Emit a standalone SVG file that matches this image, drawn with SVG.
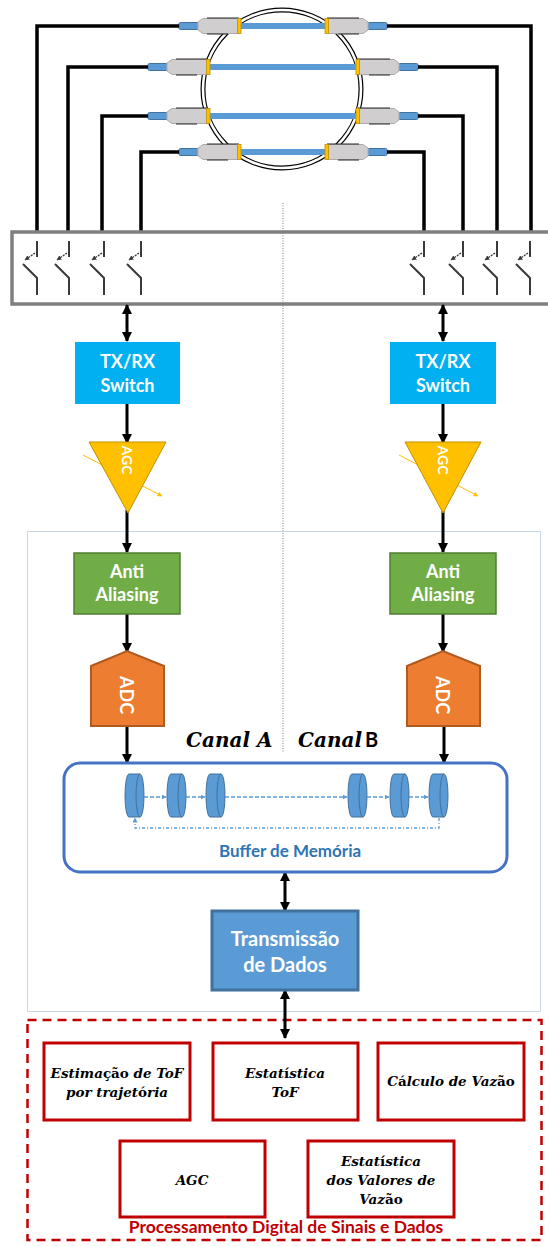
<svg xmlns="http://www.w3.org/2000/svg" xmlns:xlink="http://www.w3.org/1999/xlink" width="548" height="1246" viewBox="0 0 548 1246">
  <style>
    .wire { fill: none; stroke: #000; stroke-width: 3.5; }
    .sw { fill: none; stroke: #3a3a3a; stroke-width: 2; }
    .swa { fill: none; stroke: #3a3a3a; stroke-width: 1.3; stroke-dasharray: 2 1; }
    .flow { fill: none; stroke: #000; stroke-width: 3; }
    .lbl { font-family: Lato, "Open Sans", sans-serif; font-weight: bold; fill: #fff; text-anchor: middle; }
    .math { font-family: "DejaVu Serif", "Liberation Serif", serif; font-weight: bold; font-style: italic; fill: #000; text-anchor: middle; }
    .cap { font-family: "DejaVu Serif", "Liberation Serif", serif; font-weight: bold; font-style: italic; fill: #000; text-anchor: start; }
    .up { font-style: normal; }
    .dsp { fill: #fff; stroke: #c00000; stroke-width: 3; }
    .cyl { fill: #5b9bd5; stroke: #41719c; stroke-width: 1; }
    .bflow { fill: none; stroke: #5b9bd5; stroke-width: 1.5; stroke-dasharray: 4 2; }
  </style>
  <defs>
    <marker id="ah" viewBox="0 0 10 10" refX="9" refY="5" markerWidth="10" markerHeight="10" markerUnits="userSpaceOnUse" orient="auto-start-reverse">
      <path d="M0,0 L10,5 L0,10 Z" fill="#000"/>
    </marker>
    <marker id="bh" viewBox="0 0 10 10" refX="9" refY="5" markerWidth="5" markerHeight="5" markerUnits="userSpaceOnUse" orient="auto">
      <path d="M0,0 L10,5 L0,10 Z" fill="#5b9bd5"/>
    </marker>
    <marker id="sh" viewBox="0 0 10 10" refX="9" refY="5" markerWidth="5" markerHeight="5" markerUnits="userSpaceOnUse" orient="auto-start-reverse">
      <path d="M0,0 L10,5 L0,10 Z" fill="#3a3a3a"/>
    </marker>
    <marker id="yh" viewBox="0 0 10 10" refX="9" refY="5" markerWidth="5" markerHeight="5" markerUnits="userSpaceOnUse" orient="auto">
      <path d="M0,0 L10,5 L0,10 Z" fill="#ffc000"/>
    </marker>
    <!-- clamp-on transducer, cable tip at the origin, facing left -->
    <g id="xdcr">
      <rect x="0" y="-3.5" width="20" height="7" rx="1.5" fill="#5b9bd5" stroke="#41719c"/>
      <path d="M19,-4 L24,-7.5 L59,-7.5 L59,7.5 L24,7.5 L19,4 Z" fill="#d0cece" stroke="#aeaaaa"/>
      <path d="M28,-8 H60 M28,8 H49" stroke="#262626" stroke-width="1.2" fill="none"/>
      <rect x="58.5" y="-7.5" width="3.5" height="15" fill="#ffc000" stroke="#bf9000" stroke-width="0.8"/>
    </g>
    <!-- switch symbol, column at x=0 -->
    <g id="swsym">
      <path class="sw" d="M0,241 V257 M-14,264 L0,278 V295"/>
      <path class="swa" d="M-2,253 L-12,260" marker-end="url(#sh)"/>
    </g>
    <!-- buffer cell -->
    <g id="cell">
      <path class="cyl" d="M4,0 H15 A4,21.5 0 0 1 15,43 H4 A4,21.5 0 0 1 4,0 Z"/>
      <path d="M15,0 A4,21.5 0 0 0 15,43" fill="none" stroke="#41719c"/>
    </g>
  </defs>

  <!-- pipe with the four acoustic paths -->
  <g id="pipe">
    <circle cx="282" cy="89" r="79" fill="none" stroke="#000" stroke-width="5"/>
    <circle cx="282" cy="89" r="79" fill="none" stroke="#fff" stroke-width="2.6"/>
    <g stroke="#5b9bd5" stroke-width="6">
      <line x1="240" y1="26" x2="326" y2="26"/>
      <line x1="209" y1="67" x2="357" y2="67"/>
      <line x1="209" y1="116" x2="357" y2="116"/>
      <line x1="240" y1="152" x2="326" y2="152"/>
    </g>
    <use xlink:href="#xdcr" transform="translate(179,26)"/>
    <use xlink:href="#xdcr" transform="translate(148,67)"/>
    <use xlink:href="#xdcr" transform="translate(148,116)"/>
    <use xlink:href="#xdcr" transform="translate(179,152)"/>
    <use xlink:href="#xdcr" transform="translate(387,26) scale(-1,1)"/>
    <use xlink:href="#xdcr" transform="translate(418,67) scale(-1,1)"/>
    <use xlink:href="#xdcr" transform="translate(418,116) scale(-1,1)"/>
    <use xlink:href="#xdcr" transform="translate(387,152) scale(-1,1)"/>
  </g>

  <!-- transducer cabling -->
  <g id="cables">
    <path class="wire" d="M179,26 H37 V232"/>
    <path class="wire" d="M148,67 H68 V232"/>
    <path class="wire" d="M148,116 H102 V232"/>
    <path class="wire" d="M179,152 H141 V232"/>
    <path class="wire" d="M387,26 H531 V232"/>
    <path class="wire" d="M418,67 H497 V232"/>
    <path class="wire" d="M418,116 H463 V232"/>
    <path class="wire" d="M387,152 H424 V232"/>
  </g>

  <!-- multiplexer bank -->
  <g id="mux">
    <rect x="12" y="232" width="545" height="72" fill="#fff" stroke="#7f7f7f" stroke-width="3.5"/>
    <use xlink:href="#swsym" x="37"/>
    <use xlink:href="#swsym" x="69"/>
    <use xlink:href="#swsym" x="104"/>
    <use xlink:href="#swsym" x="141"/>
    <use xlink:href="#swsym" x="424"/>
    <use xlink:href="#swsym" x="463"/>
    <use xlink:href="#swsym" x="497"/>
    <use xlink:href="#swsym" x="530"/>
  </g>

  <!-- channel divider and digital domain frame -->
  <g id="frames">
    <line x1="283" y1="203" x2="283" y2="752" stroke="#7f7f7f" stroke-width="1" stroke-dasharray="1 1.5"/>
    <rect x="27.5" y="531.5" width="513" height="480" fill="none" stroke="#8fb0d4" stroke-width="1" stroke-dasharray="1 1"/>
    <rect x="27.5" y="1020" width="514" height="220" fill="none" stroke="#c00000" stroke-width="2.5" stroke-dasharray="9 6"/>
  </g>

  <!-- connectors -->
  <g id="connectors">
    <line class="flow" x1="127" y1="305" x2="127" y2="341" marker-start="url(#ah)" marker-end="url(#ah)"/>
    <line class="flow" x1="443" y1="305" x2="443" y2="341" marker-start="url(#ah)" marker-end="url(#ah)"/>
    <line class="flow" x1="127" y1="404" x2="127" y2="443" marker-end="url(#ah)"/>
    <line class="flow" x1="443" y1="404" x2="443" y2="443" marker-end="url(#ah)"/>
    <line class="flow" x1="127" y1="510" x2="127" y2="552" marker-end="url(#ah)"/>
    <line class="flow" x1="443" y1="510" x2="443" y2="552" marker-end="url(#ah)"/>
    <line class="flow" x1="127" y1="614" x2="127" y2="652" marker-end="url(#ah)"/>
    <line class="flow" x1="443" y1="614" x2="443" y2="652" marker-end="url(#ah)"/>
    <line class="flow" x1="127" y1="726" x2="127" y2="763" marker-end="url(#ah)"/>
    <line class="flow" x1="444" y1="726" x2="444" y2="763" marker-end="url(#ah)"/>
    <line class="flow" x1="285" y1="872" x2="285" y2="911" marker-start="url(#ah)" marker-end="url(#ah)"/>
    <line class="flow" x1="285" y1="990" x2="285" y2="1038" marker-start="url(#ah)" marker-end="url(#ah)"/>
  </g>

  <!-- analog front end, channel A -->
  <g id="txrx-a">
    <rect x="75" y="342" width="105" height="62" fill="#00b0f0"/>
    <text class="lbl" x="127.5" y="368" font-size="18">TX/RX</text>
    <text class="lbl" x="127.5" y="392" font-size="18">Switch</text>
  </g>
  <g id="agc-a">
    <line x1="83" y1="455" x2="162" y2="496" stroke="#ffc000" stroke-width="1" marker-end="url(#yh)"/>
    <path d="M89,442 H166 L128,513 Z" fill="#ffc000" stroke="#bf9000" stroke-width="1"/>
    <text class="lbl" font-size="14" dominant-baseline="central" transform="translate(127,460) rotate(90)">AGC</text>
  </g>
  <g id="aa-a">
    <rect x="74" y="553" width="106" height="61" fill="#70ad47" stroke="#507e32" stroke-width="1.5"/>
    <text class="lbl" x="127" y="578" font-size="18">Anti</text>
    <text class="lbl" x="127" y="601" font-size="18">Aliasing</text>
  </g>
  <g id="adc-a">
    <path d="M91,666 L127,651 L164,666 V726 H91 Z" fill="#ed7d31" stroke="#ae5a21" stroke-width="2"/>
    <text class="lbl" font-size="18" dominant-baseline="central" transform="translate(127,695) rotate(90)">ADC</text>
  </g>

  <!-- analog front end, channel B -->
  <g id="txrx-b">
    <rect x="390" y="342" width="106" height="62" fill="#00b0f0"/>
    <text class="lbl" x="443" y="368" font-size="18">TX/RX</text>
    <text class="lbl" x="443" y="392" font-size="18">Switch</text>
  </g>
  <g id="agc-b">
    <line x1="399" y1="455" x2="478" y2="496" stroke="#ffc000" stroke-width="1" marker-end="url(#yh)"/>
    <path d="M405,442 H481 L443,513 Z" fill="#ffc000" stroke="#bf9000" stroke-width="1"/>
    <text class="lbl" font-size="14" dominant-baseline="central" transform="translate(443,460) rotate(90)">AGC</text>
  </g>
  <g id="aa-b">
    <rect x="390" y="553" width="106" height="61" fill="#70ad47" stroke="#507e32" stroke-width="1.5"/>
    <text class="lbl" x="443" y="578" font-size="18">Anti</text>
    <text class="lbl" x="443" y="601" font-size="18">Aliasing</text>
  </g>
  <g id="adc-b">
    <path d="M407,666 L443,651 L480,666 V726 H407 Z" fill="#ed7d31" stroke="#ae5a21" stroke-width="2"/>
    <text class="lbl" font-size="18" dominant-baseline="central" transform="translate(443,695) rotate(90)">ADC</text>
  </g>

  <!-- channel captions -->
  <g id="captions">
    <text class="cap" x="186" y="747" font-size="20">Canal A</text>
    <text class="cap" x="298" y="747" font-size="20">Canal<tspan class="up" font-family="Lato, sans-serif" dx="3">B</tspan></text>
  </g>

  <!-- ring buffer -->
  <g id="buffer">
    <rect x="64" y="763" width="443" height="109" rx="16" fill="#fff" stroke="#4472c4" stroke-width="3"/>
    <use xlink:href="#cell" x="125" y="774"/>
    <use xlink:href="#cell" x="167" y="774"/>
    <use xlink:href="#cell" x="206" y="774"/>
    <use xlink:href="#cell" x="348" y="774"/>
    <use xlink:href="#cell" x="390" y="774"/>
    <use xlink:href="#cell" x="429" y="774"/>
    <path class="bflow" d="M144,797 H166" marker-end="url(#bh)"/>
    <path class="bflow" d="M186,797 H205" marker-end="url(#bh)"/>
    <path class="bflow" d="M225,797 H347" marker-end="url(#bh)"/>
    <path class="bflow" d="M367,797 H389" marker-end="url(#bh)"/>
    <path class="bflow" d="M409,797 H428" marker-end="url(#bh)"/>
    <path d="M439,818 V828 H135 V818" fill="none" stroke="#5b9bd5" stroke-width="1.3" stroke-dasharray="3 2 1 2" marker-end="url(#bh)"/>
    <text x="290" y="857" font-family="Lato, sans-serif" font-weight="bold" font-size="17" fill="#2e75b6" text-anchor="middle">Buffer de Memória</text>
  </g>

  <!-- data link -->
  <g id="tx-dados">
    <rect x="212" y="911" width="146" height="79" fill="#5b9bd5" stroke="#41719c" stroke-width="3"/>
    <text class="lbl" x="285" y="946" font-size="20">Transmissão</text>
    <text class="lbl" x="285" y="972" font-size="20">de Dados</text>
  </g>

  <!-- signal and data processing blocks -->
  <g id="tof-traj">
    <rect class="dsp" x="44" y="1043" width="146" height="77"/>
    <text class="math" x="117" y="1078" font-size="13.5">Estima<tspan class="up">ção</tspan> de ToF</text>
    <text class="math" x="117" y="1097" font-size="13.5">por trajet<tspan class="up">ó</tspan>ria</text>
  </g>
  <g id="tof-stat">
    <rect class="dsp" x="213" y="1043" width="145" height="77"/>
    <text class="math" x="285" y="1078" font-size="13.5">Estat<tspan class="up">í</tspan>stica</text>
    <text class="math" x="285" y="1097" font-size="13.5">ToF</text>
  </g>
  <g id="vazao">
    <rect class="dsp" x="378" y="1043" width="146" height="77"/>
    <text class="math" x="451" y="1086" font-size="13.5">C<tspan class="up">á</tspan>lculo de Vaz<tspan class="up">ão</tspan></text>
  </g>
  <g id="agc-dsp">
    <rect class="dsp" x="120" y="1141" width="145" height="76"/>
    <text class="math" x="192" y="1185" font-size="13.5">AGC</text>
  </g>
  <g id="vazao-stat">
    <rect class="dsp" x="308" y="1141" width="146" height="76"/>
    <text class="math" x="381" y="1166" font-size="13.5">Estat<tspan class="up">í</tspan>stica</text>
    <text class="math" x="381" y="1185" font-size="13.5">dos Valores de</text>
    <text class="math" x="381" y="1204" font-size="13.5">Vaz<tspan class="up">ão</tspan></text>
  </g>
  <text x="286" y="1233" font-family="Lato, sans-serif" font-weight="bold" font-size="17.5" fill="#c00000" text-anchor="middle">Processamento Digital de Sinais e Dados</text>
</svg>
